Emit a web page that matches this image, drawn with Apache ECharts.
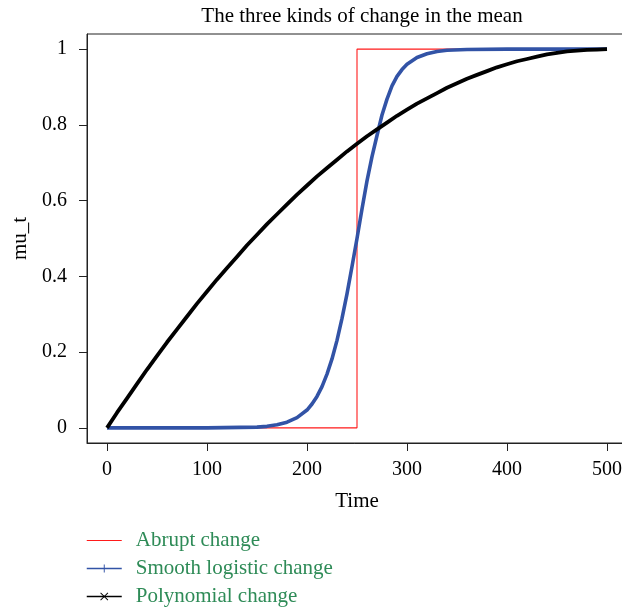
<!DOCTYPE html>
<html>
<head>
<meta charset="utf-8">
<title>The three kinds of change in the mean</title>
<script src="https://cdn.jsdelivr.net/npm/echarts@6/dist/echarts.min.js"></script>
<style>
html, body { margin: 0; padding: 0; background: #fff; }
#chart { width: 622px; height: 609px; }
</style>
</head>
<body>
<div id="chart"></div>
<script>
// tick positions
var xTicks = [0, 100, 200, 300, 400, 500];
var yTicks = [0, 0.2, 0.4, 0.6, 0.8, 1];

// abrupt change (step at t = 250)
var abruptTime = [0, 250, 250, 500];
var abruptVals = [0, 0, 1, 1];

// smooth logistic change
var logisticTime = [0, 50, 100, 150, 160, 170, 180, 190, 200, 205, 210, 215, 220, 225, 230, 235, 240, 245,
	250, 255, 260, 265, 270, 275, 280, 285, 290, 295, 300, 310, 320, 330, 340, 360, 400, 450, 500];
var logisticVals = [0, 0, 0, 0.002, 0.004, 0.008, 0.015, 0.027, 0.047, 0.063, 0.083, 0.109, 0.142, 0.182, 0.231, 0.289, 0.354, 0.426,
	0.5, 0.578, 0.652, 0.716, 0.772, 0.826, 0.868, 0.903, 0.928, 0.946, 0.96, 0.978, 0.988, 0.994, 0.997, 0.999, 1, 1, 1];

// polynomial change
var polyTime = [0, 10, 20, 30, 40, 50, 60, 70, 80, 90, 100, 110, 120, 130, 140, 150, 160, 170, 180, 190, 200,
	210, 220, 230, 240, 250, 260, 270, 280, 290, 300, 310, 320, 330, 340, 350, 360, 370, 380, 390, 400,
	410, 420, 430, 440, 450, 460, 470, 480, 490, 500];
var polyVals = [0, 0.04, 0.078, 0.116, 0.154, 0.19, 0.226, 0.26, 0.294, 0.328, 0.36, 0.392, 0.422, 0.452, 0.482, 0.51,
	0.538, 0.564, 0.59, 0.616, 0.64, 0.664, 0.686, 0.708, 0.73, 0.75, 0.77, 0.788, 0.806, 0.824, 0.84,
	0.856, 0.87, 0.884, 0.898, 0.91, 0.922, 0.932, 0.942, 0.952, 0.96, 0.968, 0.974, 0.98, 0.986, 0.99,
	0.994, 0.996, 0.998, 0.999, 1];

var seriesNames = ['Abrupt change', 'Smooth logistic change', 'Polynomial change'];

(function(){
	"use strict";

	var FONT = '"Liberation Serif", "DejaVu Serif", serif';
	var plusIcon = 'path://M4.4,0h1.2v10h-1.2z M0,4.4h10v1.2h-10z';
	var crossIcon = 'path://M0.8,0L10,9.2L9.2,10L0,0.8z M9.2,0L10,0.8L0.8,10L0,9.2z';

	var zip = function(xs, ys){
		return xs.map(function(x, i){ return [x, ys[i]]; });
	};

	var axisCommon = {
		type: 'value',
		nameLocation: 'middle',
		nameTextStyle: { fontFamily: FONT, fontSize: 21, color: '#000' },
		axisLine: { show: true, onZero: false, lineStyle: { color: '#222', width: 1 } },
		axisTick: { show: true, inside: false, length: 8, lineStyle: { color: '#222', width: 1 } },
		splitLine: { show: false }
	};

	var chart = echarts.init(document.getElementById('chart'), null, { renderer: 'canvas' });

	chart.setOption({
		animation: false,
		backgroundColor: '#fff',
		title: {
			text: 'The three kinds of change in the mean',
			left: 357,
			top: 1,
			textAlign: 'center',
			textStyle: { fontFamily: FONT, fontSize: 21, fontWeight: 'normal', color: '#000' }
		},
		grid: {
			left: 87,
			right: -5,
			top: 34,
			bottom: 166,
			show: true,
			borderColor: '#222',
			borderWidth: 1,
			backgroundColor: 'transparent',
			containLabel: false,
			outerBoundsMode: 'none'
		},
		xAxis: Object.assign({}, axisCommon, {
			min: -20,
			max: 520,
			name: 'Time',
			nameGap: 48,
			axisTick: Object.assign({}, axisCommon.axisTick, { customValues: xTicks }),
			axisLabel: {
				customValues: xTicks,
				margin: 17,
				fontFamily: FONT, fontSize: 20, color: '#000'
			}
		}),
		yAxis: Object.assign({}, axisCommon, {
			min: -0.04,
			max: 1.04,
			name: 'mu_t',
			nameGap: 53,
			axisTick: Object.assign({}, axisCommon.axisTick, { customValues: yTicks }),
			axisLabel: {
				customValues: yTicks,
				margin: 20,
				fontFamily: FONT, fontSize: 20, color: '#000',
				formatter: function(v){ return String(Math.round(v * 10) / 10); }
			}
		}),
		legend: {
			orient: 'vertical',
			left: 86,
			top: 530,
			padding: 0,
			height: 80,
			itemWidth: 35,
			itemHeight: 10,
			itemGap: 7,
			textStyle: {
				fontFamily: FONT, fontSize: 21, color: '#2e8b57',
				lineHeight: 20,
				padding: [0, 0, 0, 9]
			},
			data: [
				{ name: seriesNames[0], itemStyle: { color: 'rgba(0,0,0,0)', borderWidth: 0 }, lineStyle: { width: 1.2 } },
				{ name: seriesNames[1], lineStyle: { width: 1.5 } },
				{ name: seriesNames[2], lineStyle: { width: 1.5 } }
			]
		},
		series: [
			{
				name: seriesNames[0],
				type: 'line',
				data: zip(abruptTime, abruptVals),
				symbol: 'none',
				lineStyle: { color: '#ff1a1a', width: 1.1 },
				itemStyle: { color: '#ff1a1a' },
				z: 2
			},
			{
				name: seriesNames[1],
				type: 'line',
				data: zip(logisticTime, logisticVals),
				symbol: plusIcon,
				showSymbol: false,
				lineStyle: { color: '#3253a6', width: 3.6, join: 'round' },
				itemStyle: { color: '#3253a6' },
				z: 3
			},
			{
				name: seriesNames[2],
				type: 'line',
				data: zip(polyTime, polyVals),
				symbol: crossIcon,
				showSymbol: false,
				lineStyle: { color: '#000', width: 3.8, join: 'round' },
				itemStyle: { color: '#000' },
				z: 4
			}
		]
	});
})();
</script>
</body>
</html>
